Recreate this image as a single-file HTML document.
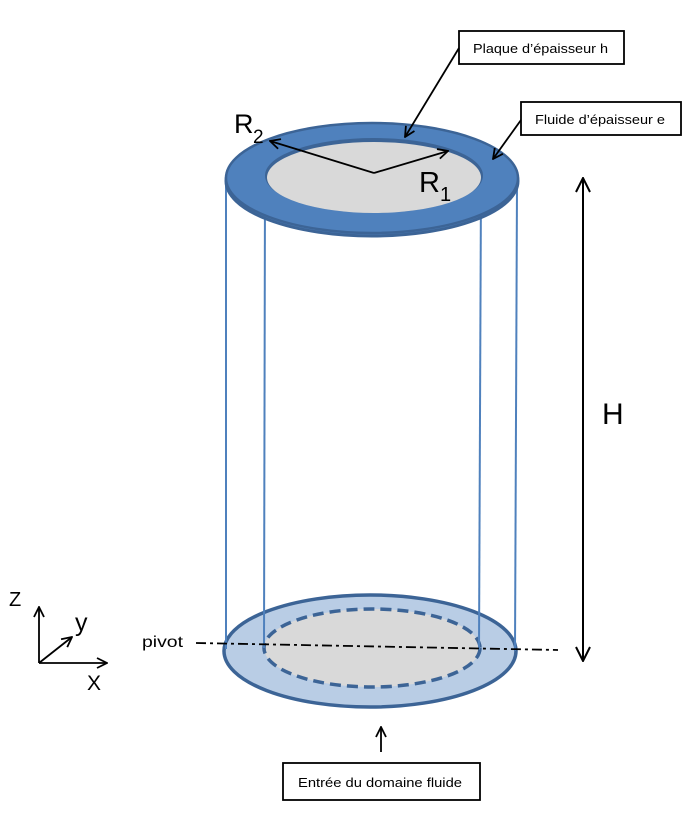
<!DOCTYPE html>
<html><head><meta charset="utf-8"><style>
html,body{margin:0;padding:0;background:#fff;}
svg{display:block;}
text{font-family:"Liberation Sans",sans-serif;fill:#000;}
</style></head><body>
<svg width="691" height="819" viewBox="0 0 691 819" xmlns="http://www.w3.org/2000/svg">
<defs>
<marker id="a" viewBox="0 0 12 12" refX="11" refY="6" markerWidth="12" markerHeight="12" markerUnits="userSpaceOnUse" orient="auto-start-reverse">
<path d="M1,1 L11,6 L1,11" fill="none" stroke="#000" stroke-width="1.8"/>
</marker>
<marker id="b" viewBox="0 0 16 16" refX="15" refY="8" markerWidth="16" markerHeight="16" markerUnits="userSpaceOnUse" orient="auto-start-reverse">
<path d="M1,1 L15,8 L1,15" fill="none" stroke="#000" stroke-width="2"/>
</marker>
</defs>

<!-- bottom ellipse -->
<ellipse cx="370" cy="651" rx="146" ry="56" fill="#b9cde5" stroke="#3c6496" stroke-width="3.5"/>
<ellipse cx="372" cy="648" rx="108" ry="39" fill="#d9d9d9" stroke="#3c6496" stroke-width="3.5" stroke-dasharray="11 6"/>

<!-- vertical lines -->
<g stroke="#4f81bd" stroke-width="2">
<line x1="226" y1="185" x2="226" y2="649"/>
<line x1="265" y1="182" x2="264" y2="648"/>
<line x1="481" y1="182" x2="479" y2="650"/>
<line x1="517" y1="185" x2="515" y2="651"/>
</g>

<!-- pivot line -->
<line x1="196" y1="643" x2="558" y2="650" stroke="#000" stroke-width="1.8" stroke-dasharray="10 4 3 4"/>

<!-- top ring -->
<ellipse cx="372" cy="181" rx="146" ry="55" fill="#4f81bd" stroke="#3c6496" stroke-width="3"/>
<ellipse cx="372" cy="178" rx="146" ry="55" fill="#4f81bd" stroke="#3c6496" stroke-width="2.5"/>
<ellipse cx="374" cy="175.5" rx="109" ry="37.5" fill="#3c6496"/>
<ellipse cx="374" cy="177.5" rx="107" ry="35.5" fill="#d9d9d9"/>

<!-- radius arrows -->
<line x1="374" y1="173" x2="270" y2="141" stroke="#000" stroke-width="1.8" marker-end="url(#a)"/>
<line x1="374" y1="173" x2="448" y2="151" stroke="#000" stroke-width="1.8" marker-end="url(#a)"/>

<!-- R labels -->
<text x="234" y="133" font-size="27">R</text>
<text x="253" y="143" font-size="19">2</text>
<text x="419" y="192" font-size="29">R</text>
<text x="440" y="201" font-size="20">1</text>

<!-- label boxes -->
<rect x="459" y="31" width="165" height="33" fill="#fff" stroke="#000" stroke-width="1.8"/>
<text x="473" y="53" font-size="13" textLength="135" lengthAdjust="spacingAndGlyphs">Plaque d’épaisseur h</text>
<line x1="459" y1="48" x2="405" y2="137" stroke="#000" stroke-width="1.8" marker-end="url(#a)"/>

<rect x="521" y="102" width="160" height="33" fill="#fff" stroke="#000" stroke-width="1.8"/>
<text x="535" y="124" font-size="13" textLength="130" lengthAdjust="spacingAndGlyphs">Fluide d’épaisseur e</text>
<line x1="521" y1="120" x2="493" y2="159" stroke="#000" stroke-width="1.8" marker-end="url(#a)"/>

<rect x="283" y="763" width="197" height="37" fill="#fff" stroke="#000" stroke-width="1.8"/>
<text x="298" y="787" font-size="13" textLength="164" lengthAdjust="spacingAndGlyphs">Entrée du domaine fluide</text>
<line x1="381" y1="752" x2="381" y2="727" stroke="#000" stroke-width="1.8" marker-end="url(#a)"/>

<!-- H arrow -->
<line x1="583" y1="178" x2="583" y2="661" stroke="#000" stroke-width="2" marker-start="url(#b)" marker-end="url(#b)"/>
<text x="602" y="424" font-size="30">H</text>

<!-- pivot label -->
<text x="142" y="647" font-size="16" textLength="41" lengthAdjust="spacingAndGlyphs">pivot</text>

<!-- axes -->
<line x1="39" y1="663" x2="39" y2="607" stroke="#000" stroke-width="1.8" marker-end="url(#a)"/>
<line x1="39" y1="663" x2="107" y2="663" stroke="#000" stroke-width="1.8" marker-end="url(#a)"/>
<line x1="39" y1="663" x2="72" y2="637" stroke="#000" stroke-width="1.8" marker-end="url(#a)"/>
<text x="9" y="606" font-size="20">Z</text>
<text x="75" y="631" font-size="25">y</text>
<text x="87" y="690" font-size="21">X</text>
</svg>
</body></html>
